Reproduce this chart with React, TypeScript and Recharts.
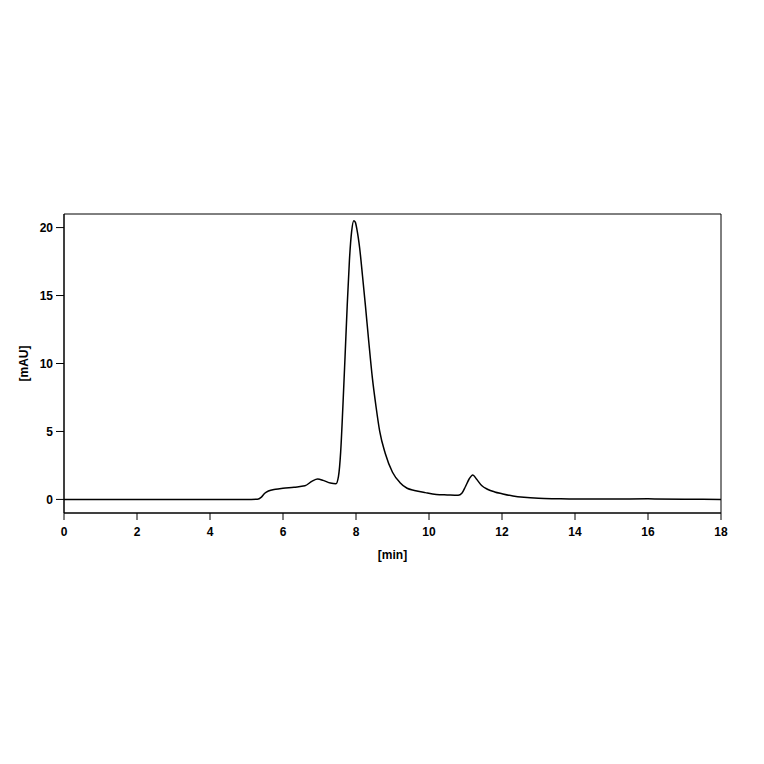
import { LineChart, Line, XAxis, YAxis, ReferenceArea } from "recharts";

// retention time [min]
const times = [
  0, 1, 2, 3, 4, 5, 5.3, 5.4, 5.5, 5.6, 5.8, 6.0, 6.3, 6.6, 6.8, 6.95, 7.1,
  7.3, 7.45, 7.52, 7.58, 7.64, 7.7, 7.76, 7.82, 7.88, 7.94, 7.98, 8.03, 8.1,
  8.18, 8.26, 8.35, 8.45, 8.55, 8.65, 8.8, 9.0, 9.2, 9.4, 9.6, 9.9, 10.2, 10.5,
  10.8, 10.9, 11.0, 11.1, 11.2, 11.3, 11.45, 11.6, 11.8, 12.0, 12.3, 12.6, 13.0,
  13.5, 14, 15, 16, 17, 18,
];

// absorbance [mAU]
const absorbance = [
  0, 0, 0, 0, 0, 0, 0.02, 0.15, 0.45, 0.62, 0.75, 0.82, 0.9, 1.0, 1.35, 1.5,
  1.4, 1.2, 1.15, 1.7, 3.5, 6.8, 10.5, 14.3, 17.6, 19.7, 20.5, 20.4, 19.8,
  18.5, 16.4, 14.2, 11.6, 8.9, 6.8, 5.0, 3.4, 2.0, 1.25, 0.82, 0.66, 0.5, 0.37,
  0.33, 0.3, 0.45, 0.95, 1.5, 1.8, 1.5, 1.0, 0.75, 0.55, 0.42, 0.25, 0.15,
  0.08, 0.05, 0.03, 0.03, 0.04, 0.02, 0,
];

const xTicks = [0, 2, 4, 6, 8, 10, 12, 14, 16, 18];
const yTicks = [0, 5, 10, 15, 20];

const data = times.map((t, i) => ({ t, v: absorbance[i] }));

const tickStyle = {
  fontFamily: "Arial, 'Liberation Sans', sans-serif",
  fontSize: 12,
  fontWeight: 700,
  fill: "#000",
};

export default function App() {
  return (
    <div
      style={{
        position: "absolute",
        left: 0,
        top: 0,
        width: 764,
        height: 764,
        background: "#fff",
      }}
    >
      <LineChart
        width={764}
        height={764}
        data={data}
        margin={{ top: 214, right: 43, bottom: 201, left: 14 }}
      >
        <XAxis
          dataKey="t"
          type="number"
          domain={[0, 18]}
          ticks={xTicks}
          allowDataOverflow
          height={50}
          tickSize={7}
          tickMargin={7}
          stroke="#000"
          tick={tickStyle}
          label={{
            value: "[min]",
            position: "insideBottom",
            offset: 4,
            style: tickStyle,
          }}
        />
        <YAxis
          type="number"
          domain={[-1, 21]}
          ticks={yTicks}
          allowDataOverflow
          width={50}
          tickSize={8}
          tickMargin={3}
          stroke="#000"
          tick={tickStyle}
          label={{
            value: "[mAU]",
            angle: -90,
            position: "center",
            dx: -15,
            style: tickStyle,
          }}
        />
        {/* plot frame */}
        <ReferenceArea
          x1={0}
          x2={18}
          y1={-1}
          y2={21}
          fill="none"
          fillOpacity={0}
          stroke="#000"
          strokeWidth={1}
          ifOverflow="visible"
        />
        <Line
          type="monotone"
          dataKey="v"
          stroke="#000"
          strokeWidth={1.5}
          dot={false}
          isAnimationActive={false}
        />
      </LineChart>
    </div>
  );
}
